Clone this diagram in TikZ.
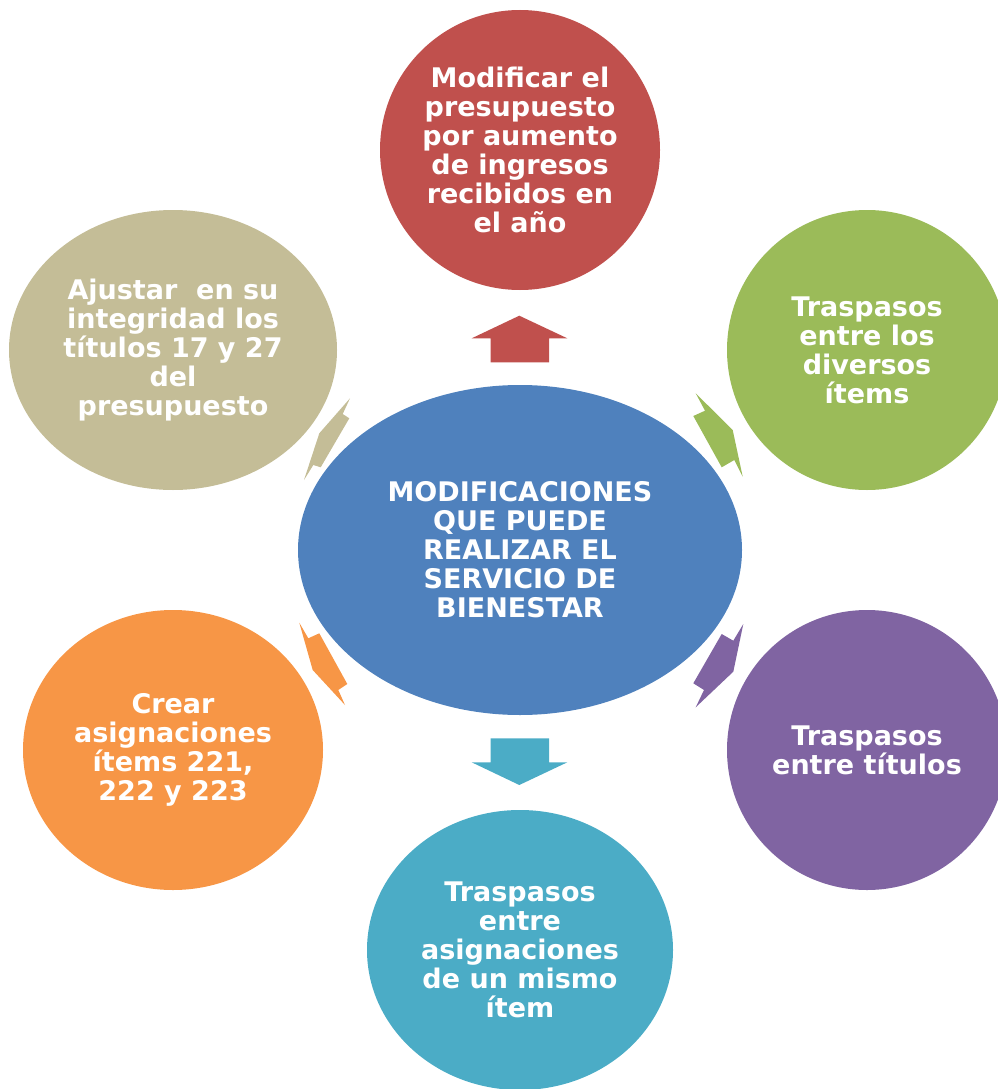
\documentclass[tikz,border=0pt]{standalone}
\usepackage{fontspec}
\setmainfont{DejaVu Sans}
\usetikzlibrary{shapes.geometric}
\definecolor{rojo}{HTML}{C0504D}
\definecolor{verde}{HTML}{9BBB59}
\definecolor{morado}{HTML}{8064A2}
\definecolor{celeste}{HTML}{4BACC6}
\definecolor{naranja}{HTML}{F79646}
\definecolor{beige}{HTML}{C4BD97}
\definecolor{azul}{HTML}{4F81BD}
\begin{document}
\begin{tikzpicture}[x=1pt,y=-1pt,
	bubble/.style={ellipse, fill=#1, text=white, align=center, inner sep=0pt,
		font=\bfseries\fontsize{27}{29}\selectfont}]
	\useasboundingbox (0,0) rectangle (998,1089);
	\node (C)  at (520, 550)	[bubble=azul, minimum width=444pt, minimum height=330pt]	{MODIFICACIONES\\QUE PUEDE\\REALIZAR EL\\SERVICIO DE\\BIENESTAR};
	\node (N)  at (520, 150)	[bubble=rojo, minimum width=280pt, minimum height=280pt]	{Modificar el\\presupuesto\\por aumento\\de ingresos\\recibidos en\\el año};
	\node (NE) at (867, 350)	[bubble=verde, minimum width=280pt, minimum height=280pt]	{Traspasos\\entre los\\diversos\\ítems};
	\node (SE) at (867, 750)	[bubble=morado, minimum width=280pt, minimum height=280pt]	{Traspasos\\entre títulos};
	\node (S)  at (520, 950)	[bubble=celeste, minimum width=306pt, minimum height=280pt]	{Traspasos\\entre\\asignaciones\\de un mismo\\ítem};
	\node (SW) at (173, 750)	[bubble=naranja, minimum width=300pt, minimum height=280pt]	{Crear\\asignaciones\\ítems 221,\\222 y 223};
	\node (NW) at (173, 350)	[bubble=beige, minimum width=328pt, minimum height=280pt]	{Ajustar\ \ en su\\integridad los\\títulos 17 y 27\\del\\presupuesto};
	% block arrows
	\fill[rojo] (519.3,315.7) -- (567.3,338.3) -- (549,338.3) -- (549,362.3) -- (490.7,362.3) -- (490.7,338.3) -- (471.7,338.3) -- cycle;
	\fill[celeste] (490.7,738.3) -- (549,738.3) -- (549,762.3) -- (567.3,762.3) -- (519.3,785) -- (471.7,762.3) -- (490.7,762.3) -- cycle;
	\fill[verde] (695.7,393.3) -- (705,410.7) -- (693.3,416) -- (721.7,467.3) -- (734.3,460) -- (742.7,476.7) -- (732.7,430) -- cycle;
	\fill[morado] (743.3,624) -- (733.3,640.7) -- (721.7,634) -- (693.3,683.3) -- (704,690) -- (695.7,707.3) -- (733.3,671.7) -- cycle;
	\fill[naranja] (299.3,622.7) -- (308.3,638.3) -- (319.3,633.3) -- (347.3,684) -- (338.3,690) -- (345,705) -- (312.7,670) -- cycle;
	\fill[beige] (350,398.3) -- (342.7,414) -- (349.3,418.3) -- (320.7,467.3) -- (313.3,465) -- (304,480) -- (319.3,433.3) -- cycle;
\end{tikzpicture}
\end{document}
